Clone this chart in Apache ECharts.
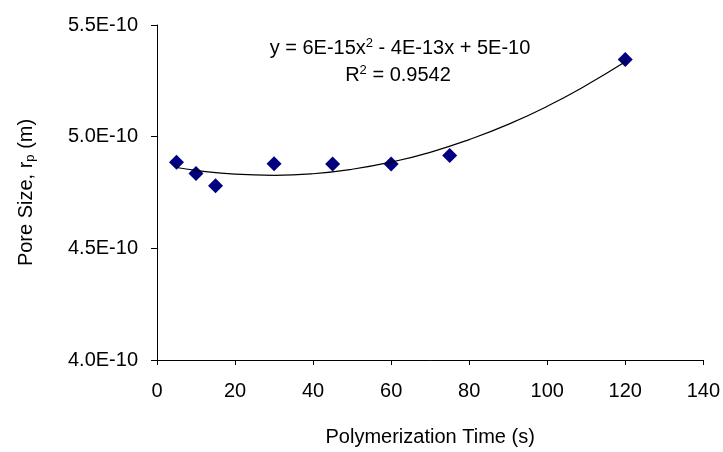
<!DOCTYPE html>
<html>
<head>
<meta charset="utf-8">
<script src="https://cdn.jsdelivr.net/npm/echarts@6/dist/echarts.min.js"></script>
<style>html,body{margin:0;padding:0;background:#fff}#c{width:723px;height:452px}</style>
</head>
<body>
<div id="c"></div>
<script>
// Polymerization time (s)
const timeS = [5, 10, 15, 30, 45, 60, 75, 120];
// Pore size in units of 1E-10 m
const poreSizeE10 = [4.886, 4.835, 4.780, 4.879, 4.878, 4.878, 4.916, 5.346];
// Polynomial trendline (x in s, y in 1E-10 m)
const trendX = [5, 10, 20, 30, 40, 50, 60, 70, 80, 90, 100, 110, 120];
const trendY = [4.862, 4.849, 4.832, 4.827, 4.834, 4.854, 4.886, 4.930, 4.987, 5.055, 5.136, 5.230, 5.335];
const xTicks = [0, 20, 40, 60, 80, 100, 120, 140];
const yTickLabels = ['4.0E-10', '4.5E-10', '5.0E-10', '5.5E-10'];
const equationText = 'y = 6E-15x{sup|2} - 4E-13x + 5E-10';
const r2Text = 'R{sup|2} = 0.9542';

const FONT = '"Liberation Sans", Arial, sans-serif';
const FS = 20;
const chart = echarts.init(document.getElementById('c'), null, {renderer: 'canvas'});
chart.setOption({
  animation: false,
  backgroundColor: '#fff',
  grid: {left: 157, right: 19, top: 25, bottom: 87, containLabel: false},
  xAxis: {
    type: 'value', min: xTicks[0], max: xTicks[xTicks.length - 1], interval: 20,
    name: 'Polymerization Time (s)', nameLocation: 'middle', nameGap: 67,
    nameTextStyle: {fontFamily: FONT, fontSize: FS, color: '#000'},
    axisLine: {lineStyle: {color: '#000', width: 1}},
    axisTick: {show: true, length: 5, lineStyle: {color: '#000'}},
    axisLabel: {fontFamily: FONT, fontSize: FS, color: '#000', margin: 21},
    splitLine: {show: false}
  },
  yAxis: {
    type: 'value', min: 4.0, max: 5.5, interval: 0.5,
    name: 'Pore Size, r{sub|p} (m)', nameLocation: 'middle', nameGap: 120, nameRotate: 90,
    nameTextStyle: {fontFamily: FONT, fontSize: FS, color: '#000',
      rich: {sub: {fontFamily: FONT, fontSize: 13, color: '#000', verticalAlign: 'bottom', padding: [8, 0, 0, 0]}}},
    axisLine: {show: true, lineStyle: {color: '#000', width: 1}},
    axisTick: {show: true, length: 6, lineStyle: {color: '#000'}},
    axisLabel: {fontFamily: FONT, fontSize: FS, color: '#000', margin: 19,
      formatter: function (v) { const i = Math.round((v - 4.0) / 0.5); return yTickLabels[i] || ''; }},
    splitLine: {show: false}
  },
  series: [
    {
      type: 'scatter', name: 'Pore size',
      data: timeS.map((t, i) => [t, poreSizeE10[i]]),
      symbol: 'diamond', symbolSize: 15,
      itemStyle: {color: '#000080', opacity: 1}, z: 2
    },
    {
      type: 'line', name: 'Poly. trend',
      data: trendX.map((t, i) => [t, trendY[i]]),
      smooth: true, showSymbol: false, symbol: 'none',
      lineStyle: {color: '#000', width: 1.2}, z: 3
    }
  ],
  graphic: [
    {type: 'text', x: 400, y: 48, z: 10,
      style: {text: equationText, fontFamily: FONT, fontSize: FS, fill: '#000', align: 'center', verticalAlign: 'middle',
        rich: {sup: {fontFamily: FONT, fontSize: 13, fill: '#000', verticalAlign: 'top', padding: [0, 0, 10, 0]}}}},
    {type: 'text', x: 398, y: 75, z: 10,
      style: {text: r2Text, fontFamily: FONT, fontSize: FS, fill: '#000', align: 'center', verticalAlign: 'middle',
        rich: {sup: {fontFamily: FONT, fontSize: 13, fill: '#000', verticalAlign: 'top', padding: [0, 0, 10, 0]}}}}
  ]
});
</script>
</body>
</html>
